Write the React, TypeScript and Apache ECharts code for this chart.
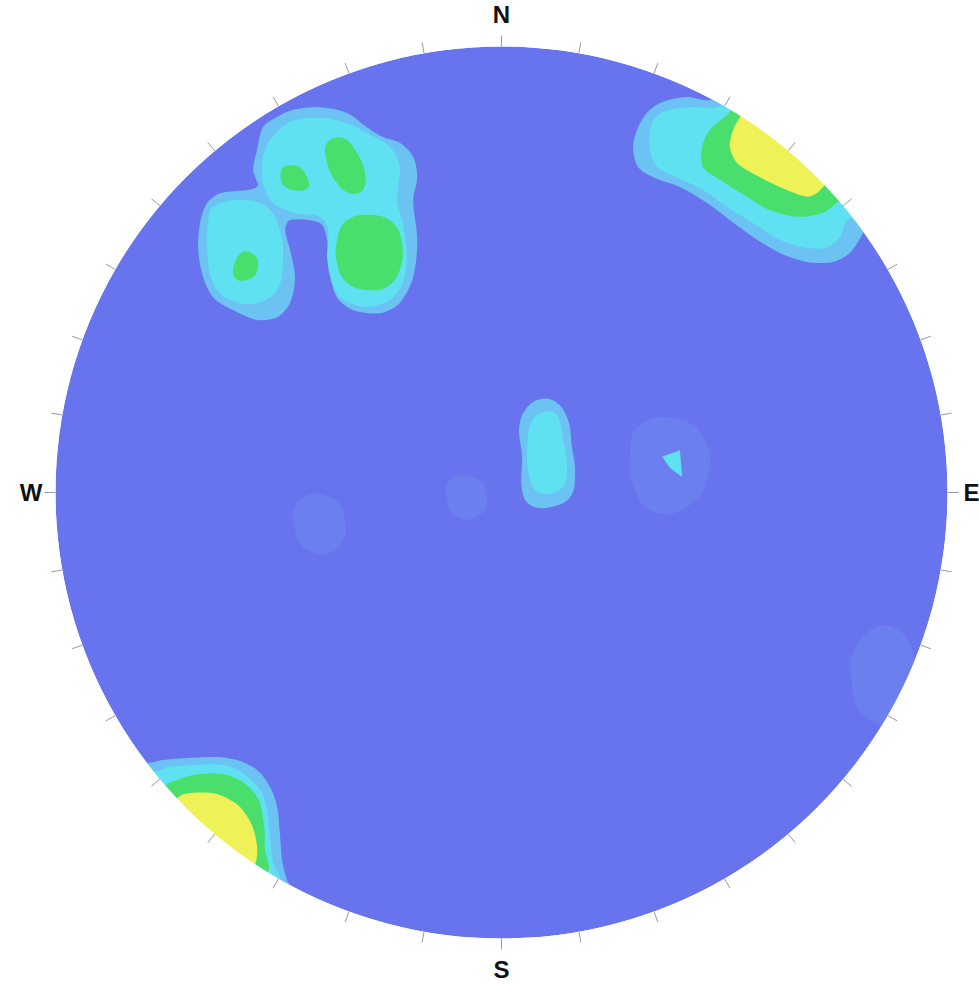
import React, { useEffect, useRef } from "react";
import * as echarts from "echarts";

// Net coordinates: x east, y north, net radius = 100
type Pt = [number, number];

const COMPASS_DEG = [0, 90, 180, 270];
const COMPASS_LABEL = ["N", "E", "S", "W"];

const LEVEL_COLORS = ["#6c7fee", "#6cc2f2", "#5fe1f2", "#4ade6c", "#eef256"];
const DISC_COLOR = "#6774ee";

// ---- faint (level 0) halos
const FAINT_E: Pt[] = [[31.1, 15.1], [40.0, 16.3], [45.6, 11.8], [46.3, 3.9], [42.3, -2.8], [34.4, -4.4], [29.9, 0.6], [28.8, 8.4]];
const FAINT_C: Pt[] = [[-11.5, 2.8], [-5.9, 3.3], [-3.3, -0.6], [-4.8, -5.0], [-9.8, -5.5], [-12.2, -1.7]];
const FAINT_W: Pt[] = [[-45.2, -1.7], [-38.5, -1.0], [-35.1, -6.2], [-36.7, -12.4], [-42.5, -13.3], [-46.3, -8.4]];
const FAINT_SE: Pt[] = [[80.4, -33.1], [88.2, -30.4], [92.7, -39.8], [89.3, -51.0], [82.2, -50.6], [78.6, -43.2]];

// ---- NW cluster
const NW_L1: Pt[] = [
  [-53.5, 81.9], [-54.8, 76.8], [-55.7, 72.3], [-54.8, 68.5], [-63.1, 67.1], [-66.0, 64.9], [-67.6, 60.4],
  [-68.0, 54.4], [-66.9, 48.3], [-64.7, 43.8], [-60.2, 40.9], [-54.8, 38.7], [-50.3, 39.3], [-47.4, 42.5],
  [-46.3, 48.3], [-47.4, 54.4], [-48.5, 58.9], [-47.4, 61.1], [-40.7, 60.4], [-39.1, 56.6], [-38.5, 49.2],
  [-36.9, 43.8], [-33.3, 40.9], [-27.2, 40.2], [-22.8, 42.5], [-19.8, 48.3], [-18.9, 56.6], [-19.8, 65.6],
  [-18.9, 70.7], [-19.8, 75.2], [-22.8, 78.4], [-26.6, 79.7], [-30.2, 81.9], [-34.6, 85.1], [-40.7, 86.4],
  [-46.7, 85.8], [-50.3, 84.2],
];
const NW_L2_A: Pt[] = [
  [-51.9, 79.0], [-47.4, 83.1], [-40.7, 84.0], [-34.6, 82.8], [-30.2, 80.6], [-25.0, 77.5], [-22.8, 73.0],
  [-23.4, 65.6], [-22.1, 60.4], [-21.2, 52.8], [-22.1, 47.0], [-25.0, 43.2], [-30.2, 41.6], [-35.5, 43.2],
  [-38.0, 47.0], [-39.1, 52.8], [-38.9, 58.9], [-40.7, 61.8], [-46.7, 62.7], [-51.2, 64.9], [-53.5, 69.4],
  [-53.5, 75.2],
];
const NW_L2_B: Pt[] = [
  [-64.7, 64.0], [-58.6, 65.6], [-52.6, 64.0], [-49.7, 58.9], [-49.0, 51.5], [-50.3, 45.4], [-54.8, 42.5],
  [-60.9, 43.2], [-64.7, 47.0], [-66.0, 54.4], [-65.8, 60.4],
];
const NW_L3_A: Pt[] = [[-49.0, 72.8], [-45.8, 73.2], [-43.6, 70.7], [-43.4, 68.3], [-46.7, 67.8], [-49.2, 69.4]];
const NW_L3_B: Pt[] = [[-39.1, 78.4], [-35.5, 79.5], [-32.4, 76.1], [-30.6, 71.6], [-31.1, 67.8], [-34.0, 67.1], [-36.9, 69.4], [-39.1, 73.9]];
const NW_L3_C: Pt[] = [[-34.6, 61.1], [-28.8, 62.2], [-24.3, 60.4], [-22.3, 55.9], [-22.8, 49.9], [-25.7, 46.1], [-30.2, 45.4], [-34.6, 47.0], [-36.7, 50.6], [-36.9, 56.6]];
const NW_L3_D: Pt[] = [[-58.2, 53.9], [-55.3, 53.2], [-54.6, 50.6], [-55.7, 48.3], [-59.1, 47.6], [-60.2, 49.9]];

// ---- NE cluster
const NE_L1: Pt[] = [
  [46.7, 88.0], [54.6, 91.4], [71.4, 81.3], [84.9, 65.6], [80.8, 57.7], [78.1, 53.7], [74.3, 51.7],
  [68.5, 51.7], [62.4, 53.7], [56.4, 57.3], [51.2, 61.1], [46.1, 64.9], [40.0, 68.5], [34.0, 70.7],
  [30.6, 73.0], [29.5, 77.5], [30.4, 81.3], [32.6, 85.1], [36.2, 87.6], [41.6, 88.7],
];
const NE_L2: Pt[] = [
  [33.7, 82.8], [36.2, 85.3], [41.6, 86.4], [48.3, 86.4], [55.7, 90.2], [73.6, 79.0], [82.6, 63.3],
  [77.5, 61.1], [75.9, 57.3], [73.0, 55.0], [68.5, 54.8], [62.4, 56.6], [56.4, 60.4], [50.6, 64.0],
  [45.2, 67.8], [39.3, 70.7], [34.9, 73.0], [33.3, 76.8],
];
const NE_L3: Pt[] = [
  [51.2, 85.3], [46.7, 81.3], [45.0, 77.5], [45.2, 73.0], [49.0, 70.1], [55.0, 66.3], [60.2, 63.3],
  [66.9, 61.8], [72.1, 62.7], [75.2, 64.9], [82.6, 70.1], [66.9, 85.8], [53.5, 89.1],
];
const NE_L4: Pt[] = [
  [53.5, 84.2], [51.9, 81.3], [51.2, 77.5], [52.8, 73.9], [58.0, 70.7], [64.0, 67.8], [68.5, 66.3],
  [70.7, 67.1], [72.1, 68.5], [78.1, 74.5], [64.7, 84.6], [55.7, 88.0],
];

// ---- SW cluster
const SW_L1: Pt[] = [
  [-78.8, -60.6], [-75.9, -60.0], [-69.8, -59.5], [-63.8, -59.3], [-59.3, -60.0], [-54.8, -62.2],
  [-51.9, -66.0], [-50.3, -70.5], [-49.7, -76.3], [-49.2, -82.4], [-48.1, -86.9], [-46.7, -89.8],
  [-56.4, -98.1], [-85.5, -68.9], [-83.3, -60.0],
];
const SW_L2: Pt[] = [
  [-78.1, -62.7], [-74.3, -61.5], [-68.3, -61.1], [-62.4, -61.1], [-58.0, -62.9], [-54.1, -66.7],
  [-52.6, -71.2], [-51.9, -77.2], [-51.2, -83.1], [-49.7, -86.9], [-58.6, -98.1], [-85.5, -71.2], [-83.3, -62.2],
];
const SW_L3: Pt[] = [
  [-75.0, -65.5], [-73.0, -64.6], [-68.3, -63.2], [-62.4, -63.2], [-57.6, -65.2], [-54.4, -69.0],
  [-53.2, -75.0], [-53.0, -80.2], [-52.2, -84.5], [-58.6, -95.8], [-81.0, -73.4],
];
const SW_L4: Pt[] = [
  [-72.0, -68.0], [-68.8, -67.3], [-63.8, -67.6], [-59.0, -70.2], [-56.0, -74.5], [-54.8, -79.5],
  [-55.2, -83.2], [-60.9, -93.6], [-78.0, -74.0],
];

// ---- central blobs
const C_L1: Pt[] = [[7.1, 20.3], [11.5, 20.7], [14.7, 16.9], [15.8, 10.2], [16.5, 4.4], [15.4, -1.0], [10.9, -3.3], [6.4, -2.8], [4.6, 0.6], [4.6, 8.0], [4.1, 15.6]];
const C_L2: Pt[] = [[7.5, 16.9], [12.0, 17.8], [13.8, 11.8], [14.7, 4.4], [13.1, 0.6], [8.6, -0.1], [6.4, 2.8], [5.9, 11.8]];
const E_L2: Pt[] = [[36.0, 8.0], [40.0, 9.5], [40.5, 3.5], [37.8, 5.5]];

const CONTOURS: { level: number; pts: Pt[]; smooth: number }[] = [
  { level: 0, pts: FAINT_E, smooth: 0.5 },
  { level: 0, pts: FAINT_C, smooth: 0.5 },
  { level: 0, pts: FAINT_W, smooth: 0.5 },
  { level: 0, pts: FAINT_SE, smooth: 0.5 },
  { level: 1, pts: NW_L1, smooth: 0.3 },
  { level: 1, pts: NE_L1, smooth: 0.3 },
  { level: 1, pts: SW_L1, smooth: 0.3 },
  { level: 1, pts: C_L1, smooth: 0.4 },
  { level: 2, pts: NW_L2_A, smooth: 0.3 },
  { level: 2, pts: NW_L2_B, smooth: 0.4 },
  { level: 2, pts: NE_L2, smooth: 0.3 },
  { level: 2, pts: SW_L2, smooth: 0.3 },
  { level: 2, pts: C_L2, smooth: 0.4 },
  { level: 2, pts: E_L2, smooth: 0 },
  { level: 3, pts: NW_L3_A, smooth: 0.4 },
  { level: 3, pts: NW_L3_B, smooth: 0.4 },
  { level: 3, pts: NW_L3_C, smooth: 0.4 },
  { level: 3, pts: NW_L3_D, smooth: 0.4 },
  { level: 3, pts: NE_L3, smooth: 0.3 },
  { level: 3, pts: SW_L3, smooth: 0.3 },
  { level: 4, pts: NE_L4, smooth: 0.3 },
  { level: 4, pts: SW_L4, smooth: 0.3 },
];

const CX = 501.5;
const CY = 492.5;
const R = 446;
const FONT = "Liberation Sans, Arial, sans-serif";

export default function App() {
  const ref = useRef<HTMLDivElement>(null);
  useEffect(() => {
    if (!ref.current) return;
    const chart = echarts.init(ref.current, undefined, { renderer: "svg" });
    const labelKeys = ["n", "e", "s", "w"];
    const base = { fontSize: 24, color: "#111", fontFamily: FONT, fontWeight: "bold" };
    const option: any = {
      animation: false,
      backgroundColor: "#ffffff",
      grid: { left: CX - R, top: CY - R, width: 2 * R, height: 2 * R, containLabel: false },
      xAxis: { type: "value", min: -100, max: 100, show: false },
      yAxis: { type: "value", min: -100, max: 100, show: false },
      polar: { center: [CX, CY], radius: R },
      radiusAxis: { type: "value", min: 0, max: 1, show: false },
      angleAxis: {
        type: "value",
        min: 0,
        max: 360,
        interval: 10,
        startAngle: 90,
        clockwise: true,
        z: 20,
        axisLine: { show: false },
        axisTick: { show: true, length: 11, lineStyle: { color: "#9a9aa0", width: 1 } },
        splitLine: { show: false },
        axisLabel: {
          margin: 12,
          formatter: (v: number) => {
            const i = COMPASS_DEG.indexOf(v);
            if (i < 0 || v === 360) return "";
            return `{${labelKeys[i]}|${COMPASS_LABEL[i]}}`;
          },
          rich: {
            n: { ...base, padding: [0, 0, 8, 0] },
            e: { ...base, padding: [0, 0, 0, 4] },
            s: { ...base, padding: [7, 0, 0, 0] },
            w: { ...base, padding: [0, 1, 0, 0] },
          },
        },
      },
      series: [
        {
          type: "custom",
          coordinateSystem: "cartesian2d",
          z: 1,
          silent: true,
          data: [[0, 0]],
          renderItem: (params: any, api: any) => {
            const c = api.coord([0, 0]);
            const e = api.coord([100, 0]);
            return { type: "circle", shape: { cx: c[0], cy: c[1], r: e[0] - c[0] }, style: { fill: DISC_COLOR } };
          },
        },
        {
          type: "custom",
          coordinateSystem: "cartesian2d",
          z: 2,
          silent: true,
          data: CONTOURS.map((c) => c.pts[0]),
          renderItem: (params: any, api: any) => {
            const c = CONTOURS[params.dataIndex];
            const points = c.pts.map((p) => api.coord(p));
            return {
              type: "polygon",
              shape: { points, smooth: c.smooth },
              style: { fill: LEVEL_COLORS[c.level], stroke: null },
            };
          },
        },
        {
          type: "custom",
          coordinateSystem: "cartesian2d",
          z: 3,
          silent: true,
          data: [[0, 0]],
          renderItem: (params: any, api: any) => {
            const c = api.coord([0, 0]);
            const e = api.coord([100, 0]);
            const r = e[0] - c[0];
            return { type: "ring", shape: { cx: c[0], cy: c[1], r0: r, r: r + 120 }, style: { fill: "#ffffff" } };
          },
        },
      ],
    };
    chart.setOption(option);
    return () => chart.dispose();
  }, []);
  return <div ref={ref} style={{ position: "absolute", left: 0, top: 0, width: 979, height: 984 }} />;
}
